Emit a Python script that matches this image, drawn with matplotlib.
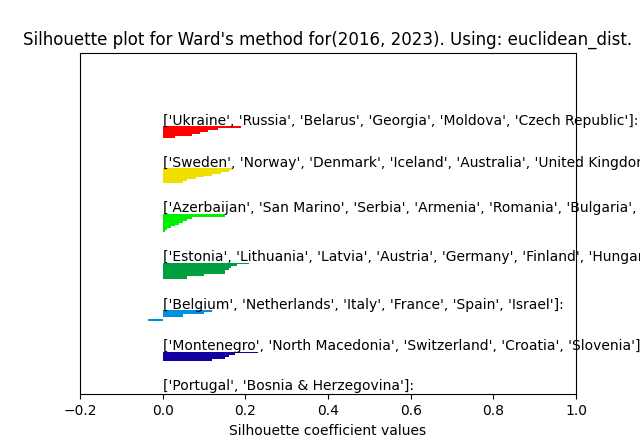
import matplotlib
matplotlib.use("Agg")
import matplotlib.pyplot as plt
import numpy as np

labels = [
    "['Ukraine', 'Russia', 'Belarus', 'Georgia', 'Moldova', 'Czech Republic']:",
    "['Sweden', 'Norway', 'Denmark', 'Iceland', 'Australia', 'United Kingdom', 'Ireland', 'Malta']:",
    "['Azerbaijan', 'San Marino', 'Serbia', 'Armenia', 'Romania', 'Bulgaria', 'Greece', 'Cyprus', 'Albania', 'Poland']:",
    "['Estonia', 'Lithuania', 'Latvia', 'Austria', 'Germany', 'Finland', 'Hungary', 'Slovakia', 'Luxembourg']:",
    "['Belgium', 'Netherlands', 'Italy', 'France', 'Spain', 'Israel']:",
    "['Montenegro', 'North Macedonia', 'Switzerland', 'Croatia', 'Slovenia']:",
    "['Portugal', 'Bosnia & Herzegovina']:",
]
values = [
    [0.19, 0.135, 0.11, 0.09, 0.07, 0.03],
    [0.17, 0.16, 0.14, 0.12, 0.10, 0.08, 0.06, 0.05],
    [0.15, 0.15, 0.07, 0.06, 0.05, 0.04, 0.03, 0.02, 0.01, 0.005],
    [0.21, 0.18, 0.165, 0.16, 0.15, 0.15, 0.10, 0.06, 0.06],
    [0.12, 0.10, 0.05, 0.05, 0.0, -0.035],
    [0.23, 0.175, 0.16, 0.15, 0.12],
    [0.0, 0.0],
]
colors = ["#ff0000", "#f0e000", "#00ee00", "#00a040", "#0090e0", "#1400a0", "#888888"]

fig, ax = plt.subplots(figsize=(6.4, 4.43), dpi=100)
fig.subplots_adjust(left=0.125, right=0.9, top=0.88, bottom=0.11)
y = 39.5
gap = 16.5
for lab, vals, c in zip(labels, values, colors):
    n = len(vals)
    ys = y + np.arange(n) + 0.5
    ax.barh(ys, vals, height=1.0, color=c, edgecolor="none")
    ax.text(0.0, y + 1.0, lab, fontsize=10, va="bottom", ha="left", clip_on=False)
    y += n + gap
ax.set_xlim(-0.2, 1.0)
ax.set_ylim(184, 0)
ax.set_yticks([])
ax.set_xticks([-0.2, 0, 0.2, 0.4, 0.6, 0.8, 1.0])
ax.set_xlabel("Silhouette coefficient values")
ax.set_title("Silhouette plot for Ward's method for(2016, 2023). Using: euclidean_dist.")
fig.savefig("out.png", dpi=100)
